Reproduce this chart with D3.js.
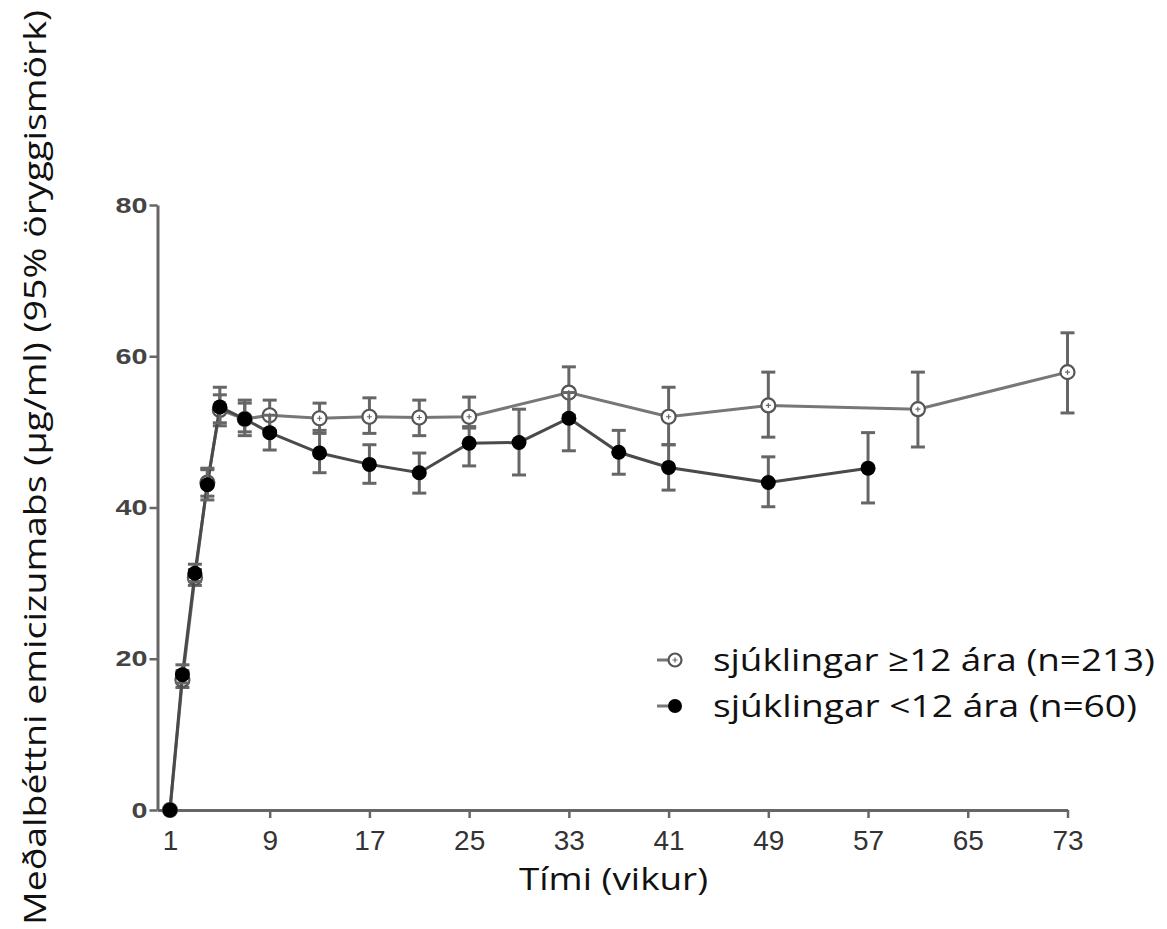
<!DOCTYPE html>
<html>
<head>
<meta charset="utf-8">
<script src="https://cdn.jsdelivr.net/npm/d3@7"></script>
<style>
  body { margin: 0; background: #fff; }
  text { font-family: "Open Sans", "Noto Sans", sans-serif; }
</style>
</head>
<body>
<svg id="chart" width="1167" height="929"></svg>
<script>
// patients >= 12 years (open markers)
var weeksOld = [1, 2, 3, 4, 5, 7, 9, 13, 17, 21, 25, 33, 41, 49, 61, 73];
var meanOld  = [0, 17.2, 30.7, 43.3, 52.9, 51.7, 52.2, 51.8, 52.0, 51.9, 52.0, 55.2, 52.0, 53.5, 53.0, 57.9];
var lowOld   = [0, 16.2, 29.7, 41.5, 50.8, 49.5, 50.2, 49.8, 49.8, 49.5, 50.5, 52.2, 48.3, 49.3, 48.0, 52.5];
var highOld  = [0, 18.4, 31.8, 45.0, 55.9, 54.2, 54.2, 53.8, 54.5, 54.2, 54.6, 58.6, 55.9, 57.9, 57.9, 63.1];

// patients < 12 years (filled markers)
var weeksYoung = [1, 2, 3, 4, 5, 7, 9, 13, 17, 21, 25, 29, 33, 37, 41, 49, 57];
var meanYoung  = [0, 17.9, 31.3, 43.0, 53.3, 51.7, 49.9, 47.2, 45.7, 44.6, 48.5, 48.6, 51.8, 47.3, 45.3, 43.3, 45.2];
var lowYoung   = [0, 16.8, 30.2, 41.0, 51.2, 50.0, 47.6, 44.6, 43.2, 41.9, 45.5, 44.3, 47.5, 44.4, 42.3, 40.1, 40.6];
var highYoung  = [0, 19.2, 32.5, 45.2, 54.9, 53.8, 52.2, 50.2, 48.3, 47.2, 50.7, 53.0, 55.2, 50.2, 48.3, 46.7, 49.9];

var xTicks = [1, 9, 17, 25, 33, 41, 49, 57, 65, 73];
var yTicks = [0, 20, 40, 60, 80];
var legendLabels = ['sjúklingar ≥12 ára (n=213)', 'sjúklingar <12 ára (n=60)'];
var xTitle = 'Tími (vikur)';
var yTitle = 'Meðalbéttni emicizumabs (µg/ml) (95% öryggismörk)';

var svg = d3.select('#chart');
var axisColor = '#666';

var x = d3.scaleLinear().domain([0, 73]).range([157.5, 1067.5]);
var y = d3.scaleLinear().domain([0, 80]).range([810, 205]);

function toRows(weeks, mean, low, high) {
    return weeks.map(function(w, i) {
        return {week: w, mean: mean[i], low: low[i], high: high[i]};
    });
}
var oldRows = toRows(weeksOld, meanOld, lowOld, highOld);
var youngRows = toRows(weeksYoung, meanYoung, lowYoung, highYoung);

// axes
var yAxis = d3.axisLeft(y).tickValues(yTicks).tickSize(8).tickSizeOuter(0);
var xAxis = d3.axisBottom(x).tickValues(xTicks).tickSize(8).tickSizeOuter(0);

var gy = svg.append('g').attr('transform', 'translate(' + x(0) + ',0)').call(yAxis);
var gx = svg.append('g').attr('transform', 'translate(0,' + y(0) + ')').call(xAxis);

[gx, gy].forEach(function(g) {
    g.select('.domain').attr('stroke', axisColor).attr('stroke-width', 3);
    g.selectAll('.tick line').attr('stroke', axisColor).attr('stroke-width', 2.5);
});
gy.selectAll('.tick text')
    .attr('x', -10)
    .attr('fill', '#444')
    .attr('textLength', function(d) { return String(d).length * 16; })
    .attr('lengthAdjust', 'spacingAndGlyphs')
    .style('font-family', '"Liberation Sans", Arial, sans-serif')
    .style('font-weight', 'bold')
    .style('font-size', '22px');
gx.selectAll('.tick text')
    .attr('y', 20)
    .attr('fill', '#333')
    .style('font-family', '"Liberation Sans Narrow", "Liberation Sans", Arial, sans-serif')
    .style('font-size', '28px');

var line = d3.line()
    .x(function(d) { return x(d.week); })
    .y(function(d) { return y(d.mean); });

function drawSeries(rows, color) {
    var g = svg.append('g');
    g.append('path')
        .datum(rows)
        .attr('d', line)
        .attr('fill', 'none')
        .attr('stroke', color)
        .attr('stroke-width', 3);

    var bars = g.selectAll('.err').data(rows.filter(function(d) { return d.high > d.low; }))
        .enter().append('g').attr('class', 'err');
    bars.append('line')
        .attr('x1', function(d) { return x(d.week); })
        .attr('x2', function(d) { return x(d.week); })
        .attr('y1', function(d) { return y(d.low); })
        .attr('y2', function(d) { return y(d.high); })
        .attr('stroke', axisColor).attr('stroke-width', 3);
    ['low', 'high'].forEach(function(k) {
        bars.append('line')
            .attr('x1', function(d) { return x(d.week) - 7; })
            .attr('x2', function(d) { return x(d.week) + 7; })
            .attr('y1', function(d) { return y(d[k]); })
            .attr('y2', function(d) { return y(d[k]); })
            .attr('stroke', axisColor).attr('stroke-width', 3);
    });
    return g;
}

function openMarker(sel, r) {
    sel.append('circle').attr('r', r)
        .attr('fill', '#fff').attr('stroke', '#555').attr('stroke-width', 2.2);
    sel.append('path').attr('d', 'M-2.5,0H2.5M0,-2.5V2.5')
        .attr('stroke', '#666').attr('stroke-width', 1.2);
}
function filledMarker(sel, r) {
    sel.append('circle').attr('r', r).attr('fill', '#000');
}

var gOld = drawSeries(oldRows, '#777');
var gYoung = drawSeries(youngRows, '#4a4a4a');

gOld.selectAll('.pt').data(oldRows).enter().append('g').attr('class', 'pt')
    .attr('transform', function(d) { return 'translate(' + x(d.week) + ',' + y(d.mean) + ')'; })
    .call(openMarker, 7);
gYoung.selectAll('.pt').data(youngRows).enter().append('g').attr('class', 'pt')
    .attr('transform', function(d) { return 'translate(' + x(d.week) + ',' + y(d.mean) + ')'; })
    .call(filledMarker, 7.5);

// legend
var legend = svg.append('g');
var rowsY = [660, 706];
var legendWidths = [442, 424];
legendLabels.forEach(function(label, i) {
    var row = legend.append('g').attr('transform', 'translate(675,' + rowsY[i] + ')');
    row.append('line').attr('x1', -18).attr('x2', -4).attr('y1', 0).attr('y2', 0)
        .attr('stroke', '#777').attr('stroke-width', 3);
    var m = row.append('g');
    if (i === 0) openMarker(m, 6.5); else filledMarker(m, 7);
    row.append('text')
        .attr('x', 38).attr('y', 11)
        .attr('fill', '#111')
        .attr('textLength', legendWidths[i])
        .attr('lengthAdjust', 'spacingAndGlyphs')
        .style('font-size', '31px')
        .text(label);
});

// axis titles
svg.append('text')
    .attr('x', 519).attr('y', 890)
    .attr('fill', '#111')
    .attr('textLength', 189)
    .attr('lengthAdjust', 'spacingAndGlyphs')
    .style('font-size', '31px')
    .text(xTitle);

svg.append('text')
    .attr('transform', 'translate(46,925) rotate(-90)')
    .attr('fill', '#111')
    .attr('textLength', 915)
    .attr('lengthAdjust', 'spacingAndGlyphs')
    .style('font-size', '31px')
    .text(yTitle);
</script>
</body>
</html>
